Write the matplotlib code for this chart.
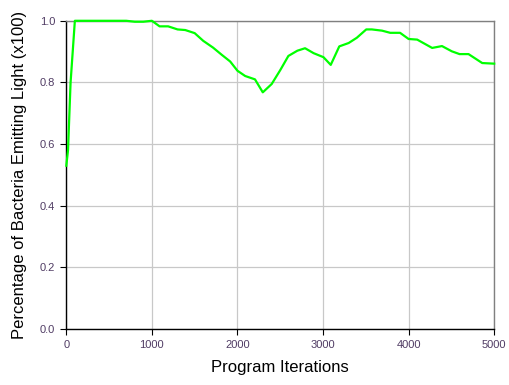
import matplotlib
matplotlib.use("Agg")
import matplotlib.pyplot as plt

iterations = [0, 20, 50, 100, 300, 700, 800, 900, 1000, 1090, 1190, 1300, 1390,
              1500, 1600, 1715, 1815, 1915, 2000, 2090, 2205, 2296, 2400, 2500,
              2595, 2700, 2790, 2890, 3005, 3090, 3190, 3300, 3395, 3505, 3570,
              3690, 3785, 3900, 4000, 4100, 4275, 4390, 4505, 4595, 4700, 4860, 5000]
light_fraction = [0.53, 0.58, 0.80, 1.0, 1.0, 1.0, 0.997, 0.997, 1.0, 0.982, 0.982,
                  0.972, 0.970, 0.960, 0.935, 0.913, 0.890, 0.868, 0.838, 0.821,
                  0.810, 0.768, 0.795, 0.840, 0.886, 0.903, 0.911, 0.895, 0.882,
                  0.857, 0.917, 0.928, 0.945, 0.972, 0.972, 0.968, 0.961, 0.961,
                  0.941, 0.939, 0.912, 0.918, 0.901, 0.892, 0.892, 0.863, 0.861]

plt.rcParams['font.family'] = ['Liberation Sans', 'DejaVu Sans']

fig = plt.figure(figsize=(5.1, 3.85), dpi=100)
ax = fig.add_axes([0.130, 0.145, 0.839, 0.801])

ax.plot(iterations, light_fraction, color='#00ff00', lw=1.6, zorder=3, clip_on=False)

ax.set_xlim(0, 5000)
ax.set_ylim(0, 1.0)
ax.set_xticks([0, 1000, 2000, 3000, 4000, 5000])
ax.set_yticks([0.0, 0.2, 0.4, 0.6, 0.8, 1.0])
ax.set_yticklabels(['0.0', '0.2', '0.4', '0.6', '0.8', '1.0'])
ax.grid(True, color='#c8c8c8', lw=0.9)
ax.set_axisbelow(True)

ax.tick_params(labelsize=8, colors='#000000', labelcolor='#503c64',
               length=4, width=0.8, pad=4)
for s in ('left', 'bottom'):
    ax.spines[s].set_color('#000000')
    ax.spines[s].set_linewidth(1.0)
for s in ('top', 'right'):
    ax.spines[s].set_color('#808080')
    ax.spines[s].set_linewidth(1.0)

ax.set_xlabel('Program Iterations', fontsize=12, labelpad=7)
ax.set_ylabel('Percentage of Bacteria Emitting Light (x100)', fontsize=12, labelpad=9)

fig.savefig('out.png', dpi=100)
